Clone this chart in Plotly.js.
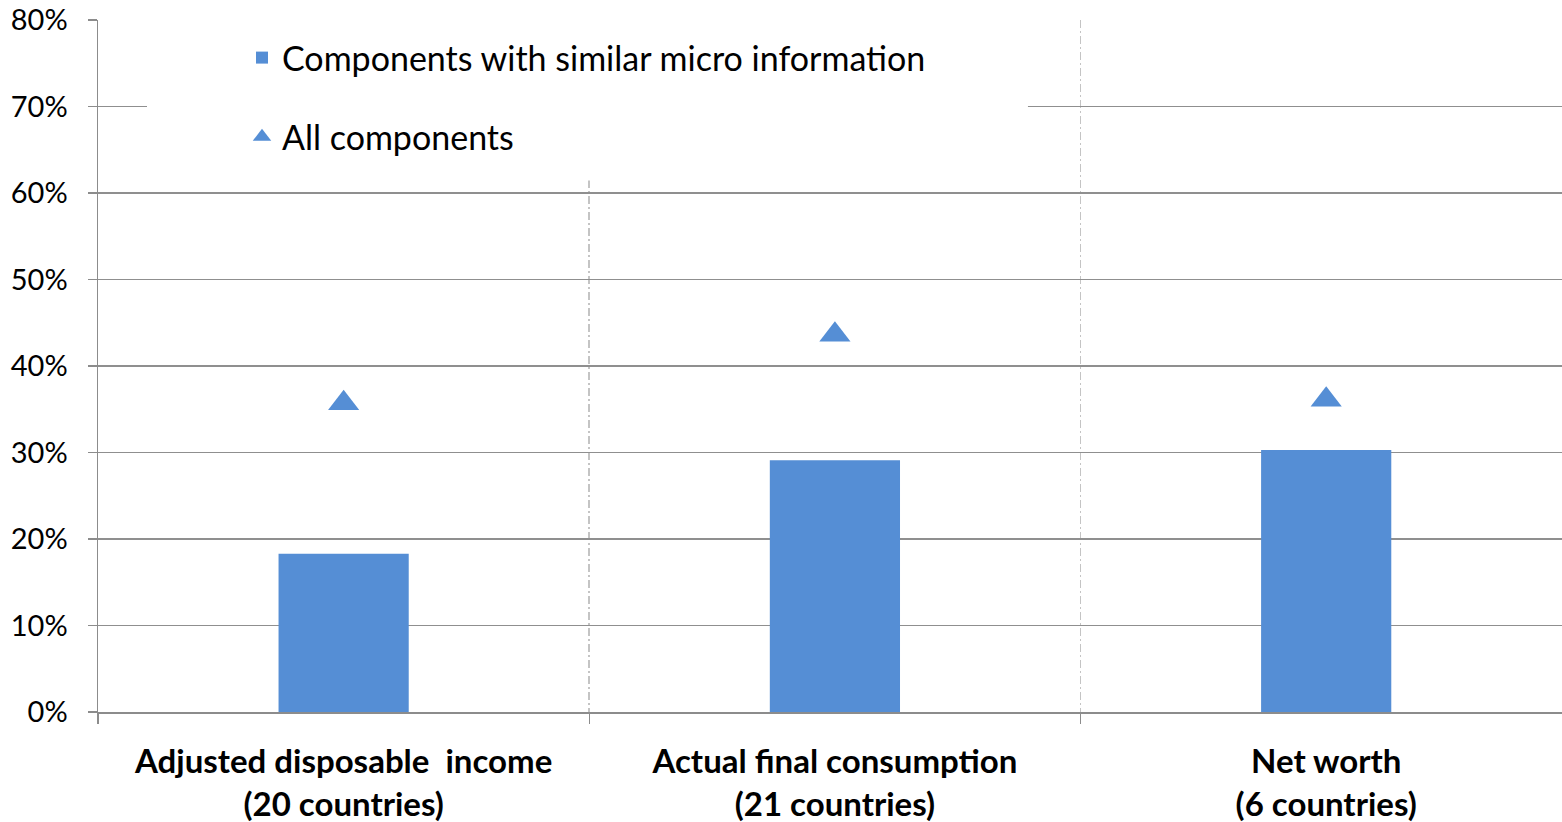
<!DOCTYPE html>
<html>
<head>
<meta charset="utf-8">
<script src="https://cdn.plot.ly/plotly-3.0.1.min.js"></script>
<style>html,body{margin:0;padding:0;background:#fff;}#chart{width:1562px;height:822px;}</style>
</head>
<body>
<div id="chart"></div>
<script>
const categories = [
  "Adjusted disposable  income<br>(20 countries)",
  "Actual final consumption<br>(21 countries)",
  "Net worth<br>(6 countries)"
];
const similarMicro = [0.183, 0.291, 0.303];
const allComponents = [0.357, 0.436, 0.361];
const seriesNames = ["Components with similar micro information", "All components"];
const yTickVals = [0, 0.1, 0.2, 0.3, 0.4, 0.5, 0.6, 0.7, 0.8];

const blue = "rgb(85,142,213)";
const font = "Lato, 'Open Sans', sans-serif";

const traces = [
  {
    type: "bar", x: categories, y: similarMicro, name: seriesNames[0],
    marker: {color: blue}, width: 0.265, legendgroup: "a", hoverinfo: "y"
  },
  {
    type: "scatter", mode: "markers", x: categories, y: allComponents, name: seriesNames[1],
    marker: {color: blue, symbol: "triangle-up", size: 27}, legendgroup: "b", hoverinfo: "y"
  }
];

const layout = {
  width: 1562, height: 822,
  margin: {l: 98, r: 0, t: 20, b: 110, pad: 0},
  paper_bgcolor: "#fff", plot_bgcolor: "#fff",
  font: {family: font, color: "#000", size: 29},
  showlegend: true,
  legend: {
    x: (242 - 98) / 1464, xanchor: "left", y: 1 - 9 / 692, yanchor: "top",
    bgcolor: "rgba(0,0,0,0)", font: {size: 34, color: "#000", family: font},
    traceorder: "grouped", tracegroupgap: 32, itemclick: false
  },
  xaxis: {
    type: "category", range: [-0.5, 2.48], tickson: "boundaries",
    ticks: "outside", ticklen: 10, tickcolor: "#8c8c8c", tickwidth: 1.5,
    showline: true, linecolor: "#8c8c8c", linewidth: 1.5,
    showgrid: true, gridcolor: "#c4c4c4", griddash: "8px,3px,2px,3px", gridwidth: 1.6,
    tickfont: {family: font, size: 33, color: "#000", weight: "bold"},
    ticklabelstandoff: 20, fixedrange: true
  },
  yaxis: {
    range: [0, 0.8], tickvals: yTickVals, tickformat: ".0%",
    ticks: "outside", ticklen: 9, tickcolor: "#8c8c8c", tickwidth: 1.5,
    showline: true, linecolor: "#8c8c8c", linewidth: 1.5,
    showgrid: true, gridcolor: "#8f8f8f", gridwidth: 1.8, zeroline: false,
    tickfont: {family: font, size: 29, color: "#000"},
    ticklabelstandoff: 14, fixedrange: true
  },
  shapes: [
    {type: "rect", layer: "between", xref: "x", yref: "y",
     x0: -0.5 + 49 / 491.3, x1: -0.5 + 930 / 491.3, y0: 0.6145, y1: 0.805,
     fillcolor: "#fff", line: {width: 0}}
  ]
};

Plotly.newPlot("chart", traces, layout, {displayModeBar: false, staticPlot: true});
</script>
</body>
</html>
